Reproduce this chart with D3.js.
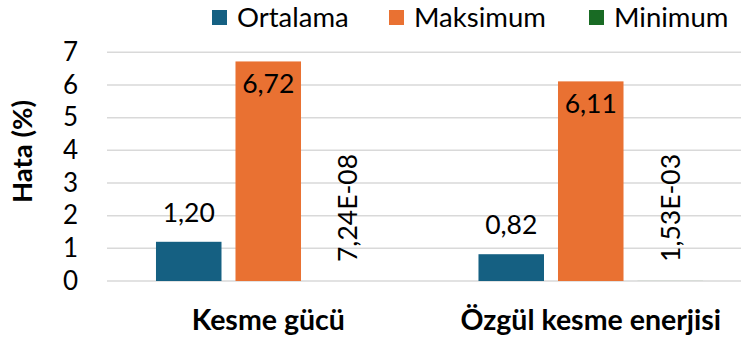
<!DOCTYPE html>
<html>
<head>
<meta charset="utf-8">
<script src="https://cdn.jsdelivr.net/npm/d3@7"></script>
<style>
  html, body { margin: 0; padding: 0; background: #ffffff; }
  svg { display: block; }
  text { font-family: Lato, "Open Sans", sans-serif; fill: #000000; }
</style>
</head>
<body>
<svg id="chart" width="741" height="340"></svg>
<script>
// Hata yüzdeleri: iki çıktı için ortalama, maksimum ve minimum
const categories = ["Kesme gücü", "Özgül kesme enerjisi"];
const seriesNames = ["Ortalama", "Maksimum", "Minimum"];
const ortalama = [1.20, 0.82];
const maksimum = [6.72, 6.11];
const minimum = [7.24e-8, 1.53e-3];
const yTicks = [0, 1, 2, 3, 4, 5, 6, 7];
const yTitle = "Hata (%)";
const colors = ["#156082", "#E97132", "#196B24"];

const seriesValues = [ortalama, maksimum, minimum];

const W = 741, H = 340;
const plot = { left: 107, right: 752, top: 52.3, bottom: 281 };

const svg = d3.select("#chart");

const trLocale = d3.formatLocale({ decimal: ",", thousands: ".", grouping: [3], currency: ["", " ₺"] });
const fmtFixed = trLocale.format(".2f");
// Bilimsel gösterim: 7,24E-08 biçiminde
function fmtSci(v) {
  const [m, e] = d3.format(".2e")(v).split("e");
  const exp = parseInt(e, 10);
  const sign = exp < 0 ? "-" : "+";
  return m.replace(".", ",") + "E" + sign + String(Math.abs(exp)).padStart(2, "0");
}

const y = d3.scaleLinear().domain([0, 7]).range([plot.bottom, plot.top]);
const x0 = d3.scaleBand().domain(categories).range([plot.left, plot.right]).padding(0);
const x1 = d3.scaleBand().domain(seriesNames).range([0, x0.bandwidth()])
  .paddingInner(0.176).paddingOuter(0.616);

// Yatay ızgara çizgileri
svg.append("g")
  .selectAll("line")
  .data(yTicks)
  .join("line")
  .attr("x1", plot.left)
  .attr("x2", W)
  .attr("y1", d => y(d))
  .attr("y2", d => y(d))
  .attr("stroke", "#d9d9d9")
  .attr("stroke-width", 1.5);

// Y ekseni etiketleri
const yAxis = svg.append("g")
  .attr("transform", `translate(${plot.left},0)`)
  .call(d3.axisLeft(y).tickValues(yTicks).tickFormat(d3.format("d")).tickSize(0).tickPadding(29));
yAxis.select(".domain").remove();
yAxis.selectAll("text")
  .attr("font-family", "Lato, 'Open Sans', sans-serif")
  .attr("font-size", 26)
  .attr("fill", "#000");

// Y ekseni başlığı
svg.append("text")
  .attr("transform", `translate(22.5,151.5) rotate(-90)`)
  .attr("text-anchor", "middle")
  .attr("dy", "0.36em")
  .attr("font-size", 27.5)
  .attr("font-weight", 700)
  .text(yTitle);

// Sütunlar
const groups = svg.append("g")
  .selectAll("g")
  .data(categories)
  .join("g")
  .attr("transform", d => `translate(${x0(d)},0)`);

const cells = groups.selectAll("g.cell")
  .data((c, ci) => seriesNames.map((s, si) => ({ cat: c, series: s, si, value: seriesValues[si][ci] })))
  .join("g")
  .attr("class", "cell");

cells.append("rect")
  .attr("x", d => x1(d.series))
  .attr("width", x1.bandwidth())
  .attr("y", d => y(d.value))
  .attr("height", d => y(0) - y(d.value))
  .attr("fill", d => colors[d.si]);

// Değer etiketleri
cells.each(function(d) {
  const g = d3.select(this);
  const cx = x1(d.series) + x1.bandwidth() / 2;
  if (d.series === "Ortalama") {
    g.append("text")
      .attr("x", cx)
      .attr("y", y(d.value) - 20)
      .attr("text-anchor", "middle")
      .attr("font-size", 26.5)
      .text(fmtFixed(d.value));
  } else if (d.series === "Maksimum") {
    g.append("text")
      .attr("x", cx)
      .attr("y", y(d.value) + 32)
      .attr("text-anchor", "middle")
      .attr("font-size", 26.5)
      .text(fmtFixed(d.value));
  } else {
    const ty = y(d.value) - 19;
    g.append("text")
      .attr("transform", `translate(${cx},${ty}) rotate(-90)`)
      .attr("text-anchor", "start")
      .attr("dy", "0.36em")
      .attr("font-size", 26.5)
      .text(fmtSci(d.value));
  }
});

// Kategori etiketleri
svg.append("g")
  .selectAll("text")
  .data(categories)
  .join("text")
  .attr("x", d => x0(d) + x0.bandwidth() / 2)
  .attr("y", 330)
  .attr("text-anchor", "middle")
  .attr("font-size", 28.5)
  .attr("font-weight", 700)
  .text(d => d);

// Gösterge
const legendX = [212, 389, 589];
const legend = svg.append("g")
  .selectAll("g")
  .data(seriesNames)
  .join("g")
  .attr("transform", (d, i) => `translate(${legendX[i]},10)`);
legend.append("rect")
  .attr("width", 15)
  .attr("height", 15)
  .attr("fill", (d, i) => colors[i]);
legend.append("text")
  .attr("x", 25)
  .attr("y", 17)
  .attr("font-size", 27.5)
  .text(d => d);
</script>
</body>
</html>
